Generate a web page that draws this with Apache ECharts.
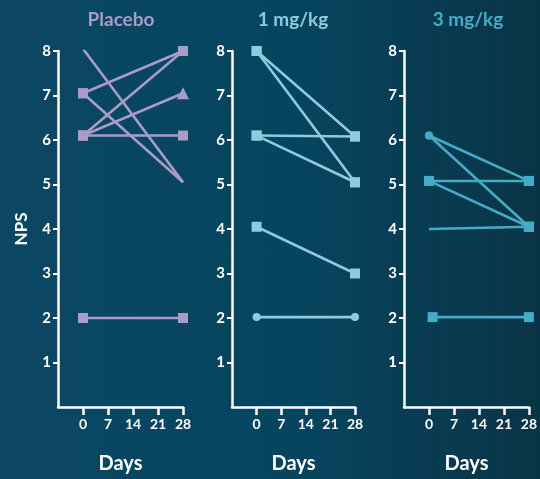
<!DOCTYPE html>
<html><head><meta charset="utf-8">
<script src="https://cdn.jsdelivr.net/npm/echarts@6/dist/echarts.min.js"></script>
<style>
html,body{margin:0;padding:0;}
#c{width:540px;height:479px;background:linear-gradient(90deg,#0b4762 0%,#06455f 55%,#0a3446 100%);}
</style></head>
<body><div id="c"></div>
<script>
// ---- data ----
const panelTitles = ['Placebo', '1 mg/kg', '3 mg/kg'];
const xTicks = [0, 7, 14, 21, 28];
const yTicks = [1, 2, 3, 4, 5, 6, 7, 8];
// each subject: [day0, value0, day28, value28]
const placeboSubjects = [[0, 8.05, 28, 5.05], [0, 7.05, 28, 8.0], [0, 7.05, 28, 5.05], [0, 6.1, 28, 8.0], [0, 6.1, 28, 7.05], [0, 6.1, 28, 6.1], [0, 2.0, 28, 2.0]];
const dose1Subjects = [[0, 8.0, 28, 6.08], [0, 8.0, 28, 5.05], [0, 6.1, 28, 6.08], [0, 6.1, 28, 5.05], [0, 4.05, 28, 3.0], [0, 2.02, 28, 2.02]];
const dose3Subjects = [[0, 6.1, 28, 5.08], [0, 6.1, 28, 4.05], [0, 5.08, 28, 5.08], [0, 5.08, 28, 4.05], [0, 4.0, 28, 4.05], [1, 2.02, 28, 2.02]];

// ---- styles ----
const placeboSymbols = [['none','none'],['rect','rect'],['rect','none'],['rect','rect'],['rect','triangle'],['rect','rect'],['rect','rect']];
const dose1Symbols = [['rect','rect'],['rect','rect'],['rect','rect'],['rect','rect'],['rect','rect'],['circle','circle']];
const dose3Symbols = [['circle','rect'],['circle','rect'],['rect','rect'],['rect','rect'],['none','rect'],['rect','rect']];
const colors = ['#a99cc8', '#8dcbdd', '#46abc6'];
const grids = [{left: 58, width: 125}, {left: 232, width: 123}, {left: 404, width: 126}];
const FONT = 'Lato, "Open Sans", sans-serif';

const chart = echarts.init(document.getElementById('c'));
const groups = [[placeboSubjects, placeboSymbols], [dose1Subjects, dose1Symbols], [dose3Subjects, dose3Symbols]];

const series = [];
groups.forEach((g, gi) => {
  g[0].forEach((s, si) => {
    const sym = g[1][si];
    series.push({
      type: 'line', xAxisIndex: gi, yAxisIndex: gi,
      data: [
        {value: [s[0], s[1]], symbol: sym[0]},
        {value: [s[2], s[3]], symbol: sym[1]}
      ],
      symbolSize: (v, p) => (p.data.symbol === 'circle' ? 8 : (p.data.symbol === 'triangle' ? 12 : 10)),
      lineStyle: {color: colors[gi], width: 2.6},
      itemStyle: {color: colors[gi], borderWidth: 0},
      silent: true, animation: false
    });
  });
});

const option = {
  animation: false,
  backgroundColor: 'transparent',
  grid: grids.map(g => ({left: g.left, width: g.width, top: 51, height: 360})),
  xAxis: grids.map((g, i) => ({
    gridIndex: i, type: 'value', min: -7, max: 28, interval: 7,
    name: 'Days', nameLocation: 'middle', nameGap: 47,
    nameTextStyle: {color: '#ffffff', fontSize: 20, fontWeight: 'bold', fontFamily: FONT},
    axisLine: {show: true, onZero: false, lineStyle: {color: '#ffffff', width: 2.5}},
    axisTick: {show: true, customValues: xTicks, length: 8, lineStyle: {color: '#ffffff', width: 2.5}},
    axisLabel: {customValues: xTicks, color: '#ffffff', fontSize: 14, fontWeight: 'bold', fontFamily: FONT, margin: 10},
    splitLine: {show: false}
  })),
  yAxis: grids.map((g, i) => ({
    gridIndex: i, type: 'value', min: 0, max: 8, interval: 1,
    name: i === 0 ? 'NPS' : '', nameLocation: 'middle', nameGap: 28, nameRotate: 90,
    nameTextStyle: {color: '#ffffff', fontSize: 17, fontWeight: 'bold', fontFamily: FONT},
    axisLine: {show: true, onZero: false, lineStyle: {color: '#ffffff', width: 2.5}},
    axisTick: {show: true, customValues: yTicks, length: 5, lineStyle: {color: '#ffffff', width: 2}},
    axisLabel: {customValues: yTicks, color: '#ffffff', fontSize: 15, fontWeight: 'bold', fontFamily: FONT, margin: 7},
    splitLine: {show: false}
  })),
  graphic: panelTitles.map((t, i) => ({
    type: 'text', x: [121, 293, 468][i], y: 20,
    style: {text: t, textAlign: 'center', textVerticalAlign: 'middle', fill: colors[i], font: 'bold 19px ' + FONT}
  })),
  series: series
};
chart.setOption(option);
</script>
</body></html>
